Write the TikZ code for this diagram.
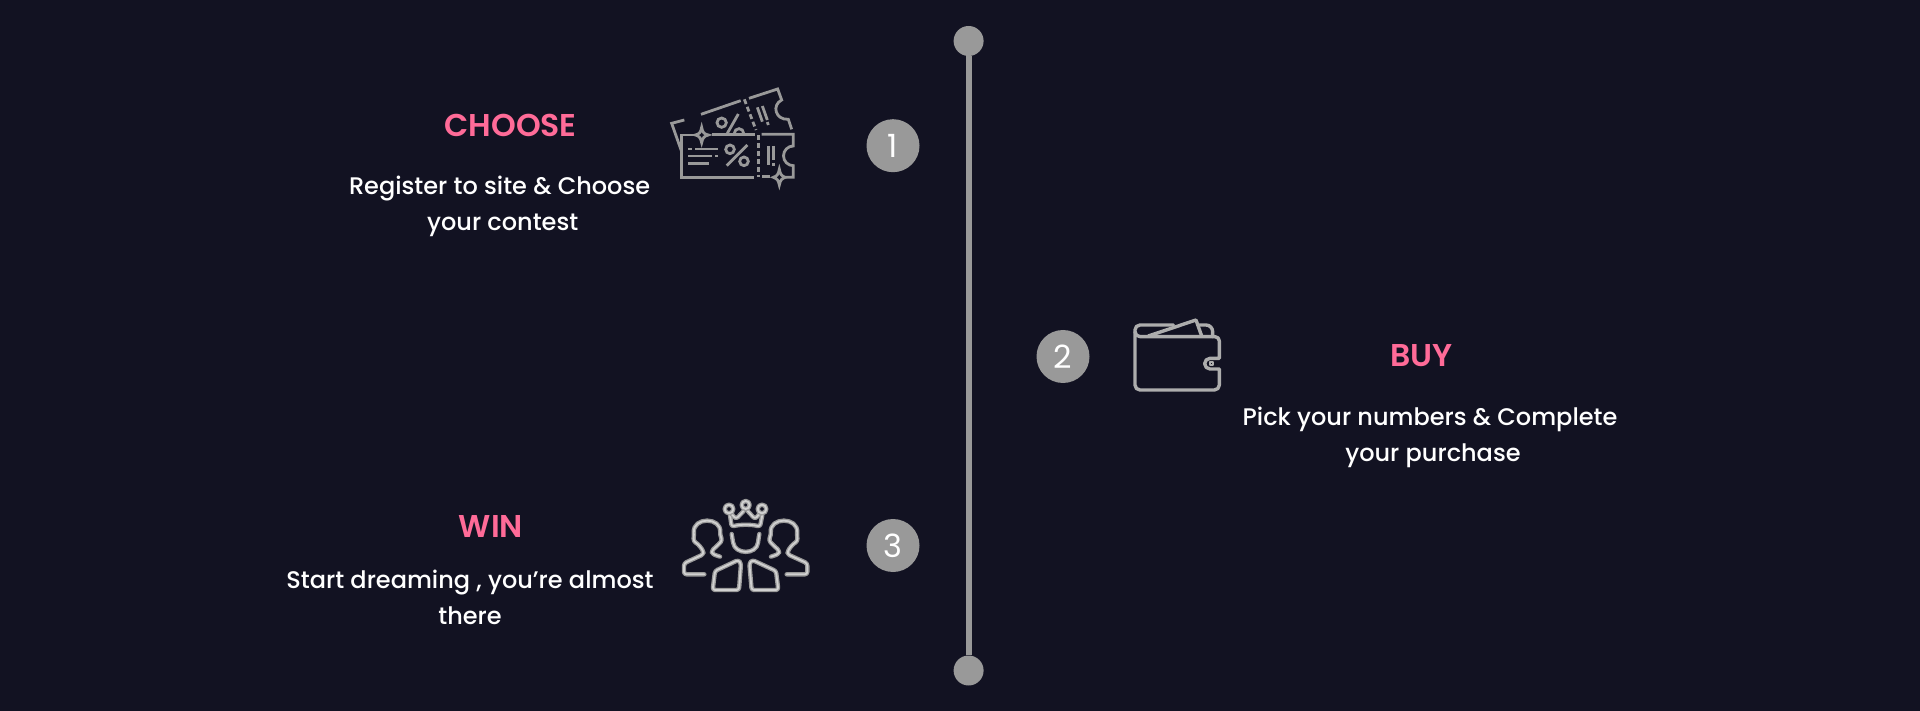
\documentclass[tikz,border=0pt]{standalone}
\usepackage{fontspec}
\setmainfont{Poppins}
\newfontfamily\medfont{Poppins Medium}
\newfontfamily\semifont{Poppins SemiBold}
\definecolor{bgc}{HTML}{121222}
\definecolor{gr}{HTML}{999999}
\definecolor{pinkc}{HTML}{FF6B98}
\tikzset{
 dot/.style={circle,fill=gr,draw=none,minimum size=30pt,inner sep=0pt},
 num/.style={circle,fill=gr,draw=none,minimum size=53pt,inner sep=0pt,text=white,font=\fontsize{32}{32}\selectfont},
 head/.style={text=pinkc,font=\semifont\fontsize{31.5}{32}\selectfont,inner sep=0pt,anchor=base},
 body/.style={text=white,font=\medfont\fontsize{24}{24}\selectfont,inner sep=0pt,anchor=base},
 icon/.style={draw=gr,line width=2.8pt},
 iconb/.style={draw=gr!80!white,line width=3.4pt,line cap=round,line join=round},
 iconc/.style={draw=gr,line width=4.4pt,line cap=round,line join=round,rounded corners=2.5pt,
  postaction={draw=gr!45!white,line width=1.8pt}}
}
\begin{document}
\begin{tikzpicture}[x=1pt,y=-1pt]
\path[fill=bgc,use as bounding box] (0,0) rectangle (1920,711);
\node[dot] (top) at (968.6,41) {};
\node[dot] (bot) at (968.6,670.5) {};
\draw[gr,line width=6pt] (top) -- (bot);
\node[num] (n1) at (893,145.7) {1};
\node[num] (n2) at (1063,356.5) {2};
\node[num] (n3) at (893,545.5) {3};
\node[head] (h1) at (510.6,136.5) {CHOOSE};
\node[body] (b1a) at (499.6,195) {Register to site \& Choose};
\node[body] (b1b) at (502.7,231) {your contest};
\node[head] (h2) at (1421.6,366.5) {BUY};
\node[body] (b2a) at (1430,425.5) {Pick your numbers \& Complete};
\node[body] (b2b) at (1433,461.5) {your purchase};
\node[head] (h3) at (491,537) {WIN};
\node[body] (b3a) at (470,588.5) {Start dreaming , you’re almost};
\node[body] (b3b) at (470,624.5) {there};
% ticket icon
\begin{scope}[shift={(650,70)},scale=1/3]
\draw[icon] (135,195) -- (95,195) -- (95,322) -- (312,322);
\draw[icon] (185,193) -- (315,193);
\draw[icon] (335,193) -- (430,193) -- (430,228) arc[start angle=-90,end angle=-270,radius=29.5] -- (430,322) -- (408,322);
\draw[icon] (360,320) -- (337,320);
\draw[icon,dash pattern=on 5pt off 3pt] (325,195) -- (325,322);
\draw[icon] (155,172) .. controls (158,188) and (162,192) .. (175,195) .. controls (162,198) and (158,204) .. (155,218) .. controls (152,204) and (148,198) .. (136,195) .. controls (148,192) and (152,188) .. (155,172) -- cycle;
\draw[icon] (388,298) .. controls (391,314) and (395,318) .. (406,322) .. controls (395,326) and (391,330) .. (388,345) .. controls (385,330) and (381,326) .. (370,322) .. controls (381,318) and (385,314) .. (388,298) -- cycle;
\draw[icon] (115,237) -- (125,237) (135,237) -- (205,237) (115,258) -- (187,258) (195,258) -- (205,258) (115,280) -- (177,280);
\draw[icon] (240,238) circle[radius=13] (282,274) circle[radius=13] (230,287) -- (292,225);
\draw[icon] (355,228) -- (355,285) (370,228) -- (370,270) (370,278) -- (370,287);
\draw[icon] (103,150) -- (65,160) -- (95,245);
\draw[icon] (153,133) -- (272,92);
\draw[icon,dash pattern=on 5pt off 3pt] (283,88) -- (318,180);
\draw[icon] (297,85) -- (383,57) -- (395,90) .. controls (365,105) and (375,150) .. (415,148) -- (425,178);
\draw[icon] (215,158) circle[radius=14];
\draw[icon] (253,190) arc[start angle=180,end angle=360,radius=14];
\draw[icon] (232,190) -- (265,132);
\draw[icon] (322,112) -- (337,155) (337,108) -- (352,150) (352,156) -- (355,165);
\end{scope}
% wallet icon
\begin{scope}[shift={(1120,300)},scale=1/3]
\draw[iconb] (60,110) -- (285,110) arc[start angle=-90,end angle=0,radius=13] -- (298,175) -- (270,175) arc[start angle=-90,end angle=-270,radius=16] -- (298,207) -- (298,255) arc[start angle=0,end angle=90,radius=15] -- (60,270) arc[start angle=90,end angle=180,radius=15] -- (45,90) arc[start angle=180,end angle=270,radius=15] -- (160,75);
\draw[iconb] (45,95) arc[start angle=180,end angle=90,radius=15];
\draw[iconb] (238,75) -- (258,75) arc[start angle=-90,end angle=0,radius=20] -- (278,110);
\draw[iconb] (85,108) -- (228,60) -- (245,108);
\draw[iconb,line width=1.8pt] (270,186) rectangle (280,194);
\end{scope}
% winners icon
\begin{scope}[shift={(670,485)},scale=1/3]
\draw[iconc] (180,90) -- (185,125) .. controls (210,118) and (245,118) .. (270,125) -- (277,90);
\draw[iconc] (183,85) -- (198,102) -- (221,78);
\draw[iconc] (270,85) -- (255,102) -- (233,78);
\draw[iconc] (177,72) circle[radius=13];
\draw[iconc] (227,60) circle[radius=12];
\draw[iconc] (276,72) circle[radius=13];
\draw[iconc] (185,147) -- (188,165) .. controls (195,210) and (260,210) .. (265,165) -- (268,147);
\draw[iconc] (103,268) -- (42,268) -- (42,235) -- (100,208) -- (100,198) -- (85,178) -- (70,168) -- (72,150) .. controls (68,95) and (155,95) .. (150,150) -- (157,165) -- (146,178) -- (125,197) -- (127,207) -- (150,215);
\draw[iconc] (350,268) -- (412,268) -- (412,235) -- (353,208) -- (353,198) -- (368,178) -- (383,168) -- (381,150) .. controls (385,95) and (298,95) .. (303,150) -- (296,165) -- (307,178) -- (328,197) -- (326,207) -- (303,215);
\draw[iconc] (135,258) -- (205,225) -- (213,235) -- (207,315) -- (128,315) -- cycle;
\draw[iconc] (318,258) -- (247,225) -- (238,235) -- (245,315) -- (325,315) -- cycle;
\end{scope}
\end{tikzpicture}
\end{document}
